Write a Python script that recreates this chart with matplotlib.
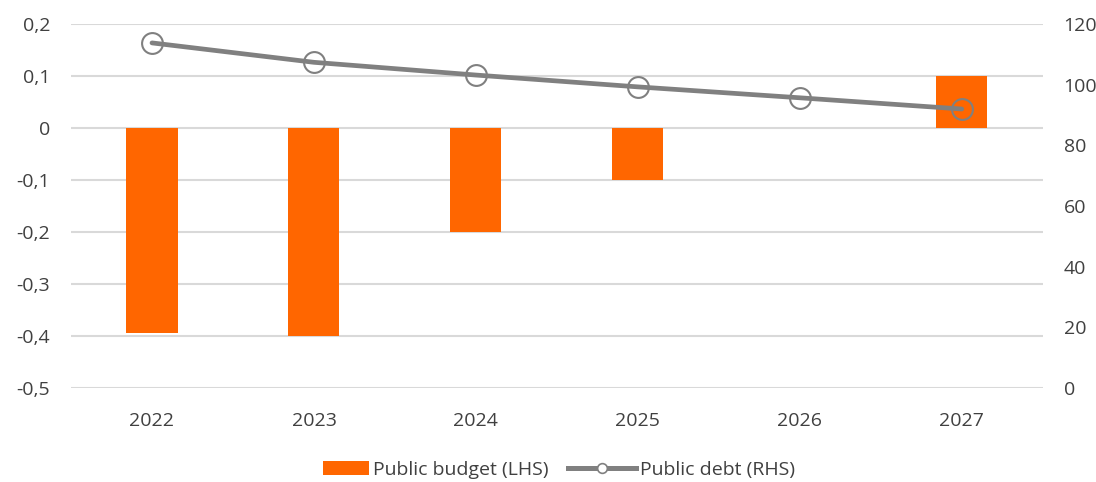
import matplotlib
matplotlib.use("Agg")
import matplotlib.pyplot as plt
from matplotlib.lines import Line2D
from matplotlib.patches import Rectangle
from matplotlib.legend_handler import HandlerPatch
from matplotlib.ticker import FixedLocator, FuncFormatter

plt.rcParams['font.family'] = ['Open Sans', 'DejaVu Sans']

years = ["2022", "2023", "2024", "2025", "2026", "2027"]
public_budget = [-0.395, -0.40, -0.20, -0.10, 0.0, 0.10]
public_debt = [113.8, 107.4, 103.2, 99.3, 95.7, 92.0]

left_ticks = [-0.5, -0.4, -0.3, -0.2, -0.1, 0.0, 0.1, 0.2]
right_ticks = [0, 20, 40, 60, 80, 100, 120]

bar_color = "#FF6600"
line_color = "#808080"
text_color = "#404040"
grid_color = "#D9D9D9"

fig = plt.figure(figsize=(10.96, 4.82), dpi=100)
ax = fig.add_axes([0.0648, 0.195, 0.8866, 0.755])
x = list(range(len(years)))

ax.set_axisbelow(True)
bars = ax.bar(x, public_budget, width=0.315, color=bar_color, zorder=2)
ax.set_ylim(-0.5, 0.2)
ax.set_xlim(-0.5, len(years) - 0.5)
ax.yaxis.set_major_locator(FixedLocator(left_ticks))


def comma_fmt(v, pos):
    if abs(v) < 1e-9:
        return "0"
    return f"{v:.1f}".replace(".", ",")


ax.yaxis.set_major_formatter(FuncFormatter(comma_fmt))
ax.grid(axis="y", color=grid_color, linewidth=1.5)
ax.set_xticks(x)
ax.set_xticklabels(years)

ax2 = ax.twinx()
ax2.plot(x, public_debt, color=line_color, linewidth=3.4, marker="o",
         markersize=15, markerfacecolor="none", markeredgecolor=line_color,
         markeredgewidth=1.5, solid_capstyle="round", zorder=3)
ax2.set_ylim(0, 120)
ax2.yaxis.set_major_locator(FixedLocator(right_ticks))

for a in (ax, ax2):
    for s in a.spines.values():
        s.set_visible(False)
    a.tick_params(length=0, labelsize=14, labelcolor=text_color)
ax.tick_params(axis="y", pad=15)
ax.tick_params(axis="x", pad=17)
ax2.tick_params(axis="y", pad=15)


def narrow_patch(legend, orig_handle, xdescent, ydescent, width, height,
                 fontsize):
    w = width * 0.68
    return Rectangle((-xdescent + width - w, -ydescent), w, height)


budget_handle = Rectangle((0, 0), 1, 1, facecolor=bar_color)
debt_handle = Line2D([], [], color=line_color, linewidth=3.6, marker="o",
                     markersize=7, markerfacecolor="white",
                     markeredgecolor=line_color, markeredgewidth=1.2)
leg = fig.legend([budget_handle, debt_handle],
                 ["Public budget (LHS)", "Public debt (RHS)"],
                 loc="lower center", ncol=2, bbox_to_anchor=(0.5, -0.03),
                 frameon=False, fontsize=14, handlelength=3.5,
                 handletextpad=0.2, columnspacing=1.0,
                 handler_map={Rectangle: HandlerPatch(patch_func=narrow_patch)})
for t in leg.get_texts():
    t.set_color(text_color)

fig.savefig("out.png", dpi=100)
